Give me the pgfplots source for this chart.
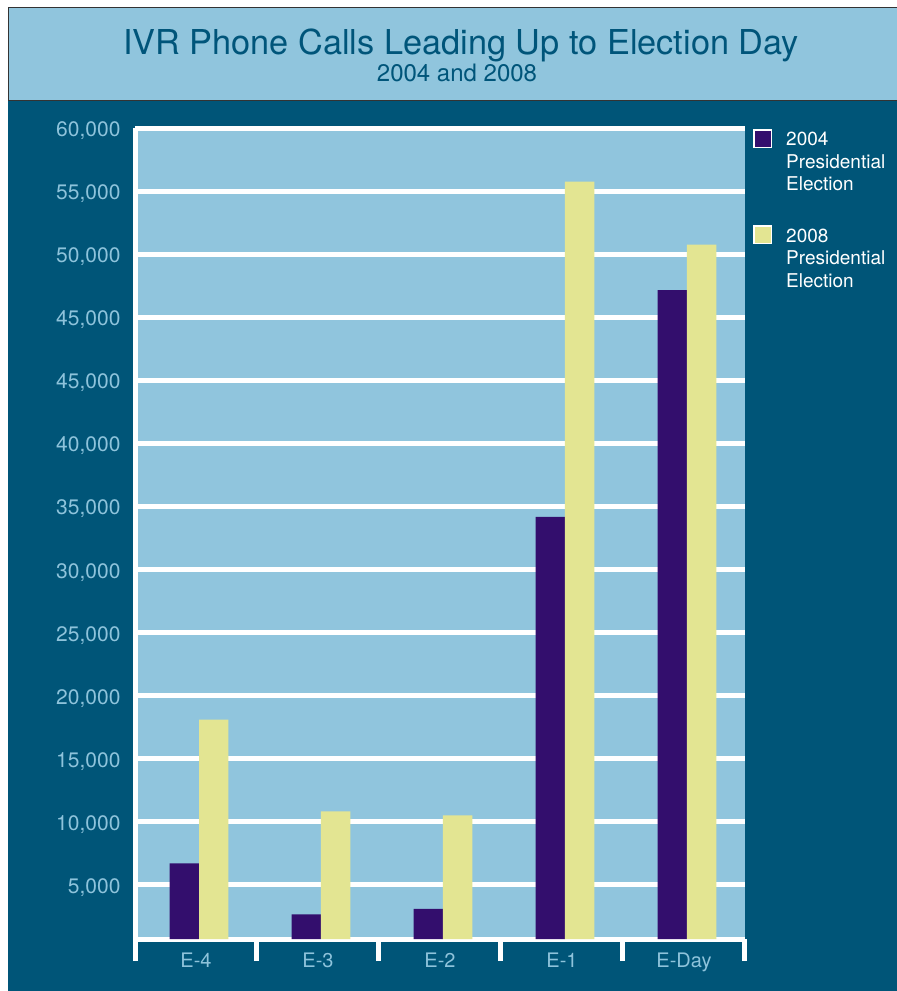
\documentclass[border=0pt]{standalone}
\usepackage{fontspec}
\setmainfont{TeX Gyre Heros}
\usepackage{pgfplots}
\pgfplotsset{compat=1.18}

\definecolor{bandblue}{HTML}{90C5DD}
\definecolor{deepblue}{HTML}{005578}
\definecolor{bar04}{HTML}{330E6D}
\definecolor{bar08}{HTML}{E3E592}
\definecolor{ticktext}{HTML}{8EC3DB}
\definecolor{titletext}{HTML}{00557A}

\begin{document}
\begin{tikzpicture}
\useasboundingbox (0pt,0pt) rectangle (897pt,-991pt);
\fill[white] (0pt,0pt) rectangle (897pt,-991pt);
\fill[deepblue] (8pt,-100pt) rectangle (897pt,-991pt);
\filldraw[fill=bandblue, draw=black!80, line width=1pt] (8pt,-7pt) rectangle (899pt,-100pt);
\node[anchor=base, text=titletext, font=\fontsize{34.3}{40}\selectfont] at (461pt,-54pt) {IVR Phone Calls Leading Up to Election Day};
\node[anchor=base, text=titletext, font=\fontsize{24}{28}\selectfont] at (457pt,-81pt) {2004 and 2008};

% gridlines are evenly spaced; the labels repeat 45,000 as in the original
\begin{axis}[
    at={(135pt,-939pt)}, anchor=south west,
    scale only axis, width=610pt, height=811pt,
    ybar=0pt, bar width=0.24,
    xmin=-0.5, xmax=4.5, ymin=650, ymax=65000,
    scaled y ticks=false,
    axis lines=left, axis line style={-, white, line width=5pt},
    axis background/.style={fill=bandblue},
    xtick={0,...,4}, xticklabels={E-4,E-3,E-2,E-1,E-Day},
    minor xtick={-0.5,0.5,1.5,2.5,3.5,4.5},
    ytick={5000,10000,...,65000},
    yticklabels={{5,000},{10,000},{15,000},{20,000},{25,000},{30,000},{35,000},{40,000},{45,000},{45,000},{50,000},{55,000},{60,000}},
    ymajorgrids, major grid style={white, line width=5pt},
    major tick length=0pt, minor tick length=22pt, tick align=outside,
    minor tick style={white, line width=5pt},
    yticklabel style={text=ticktext, font=\fontsize{21}{25}\selectfont, xshift=-11pt, yshift=-3pt},
    xticklabel style={text=ticktext, font=\fontsize{20}{24}\selectfont, yshift=-10pt},
    legend image code/.code={\draw[#1, draw=white, line width=1.5pt] (0pt,15pt) rectangle (17.5pt,32.5pt);},
    legend style={at={(1,1)}, anchor=north west, xshift=5pt, yshift=1pt,
      draw=none, fill=none, text=white, font=\fontsize{19}{22.5}\selectfont,
      cells={align=left, anchor=west}, row sep=31pt, column sep=12pt},
    legend cell align=left,
]
\addplot[fill=bar04, draw=none, xshift=3pt] coordinates {(0,6650) (1,2600) (2,3050) (3,34150) (4,52130)};
\addplot[fill=bar08, draw=none, xshift=3pt] coordinates {(0,18050) (1,10770) (2,10460) (3,60740) (4,55740)};
\legend{{2004\\Presidential\\Election},{2008\\Presidential\\Election}}
\end{axis}
\end{tikzpicture}
\end{document}
